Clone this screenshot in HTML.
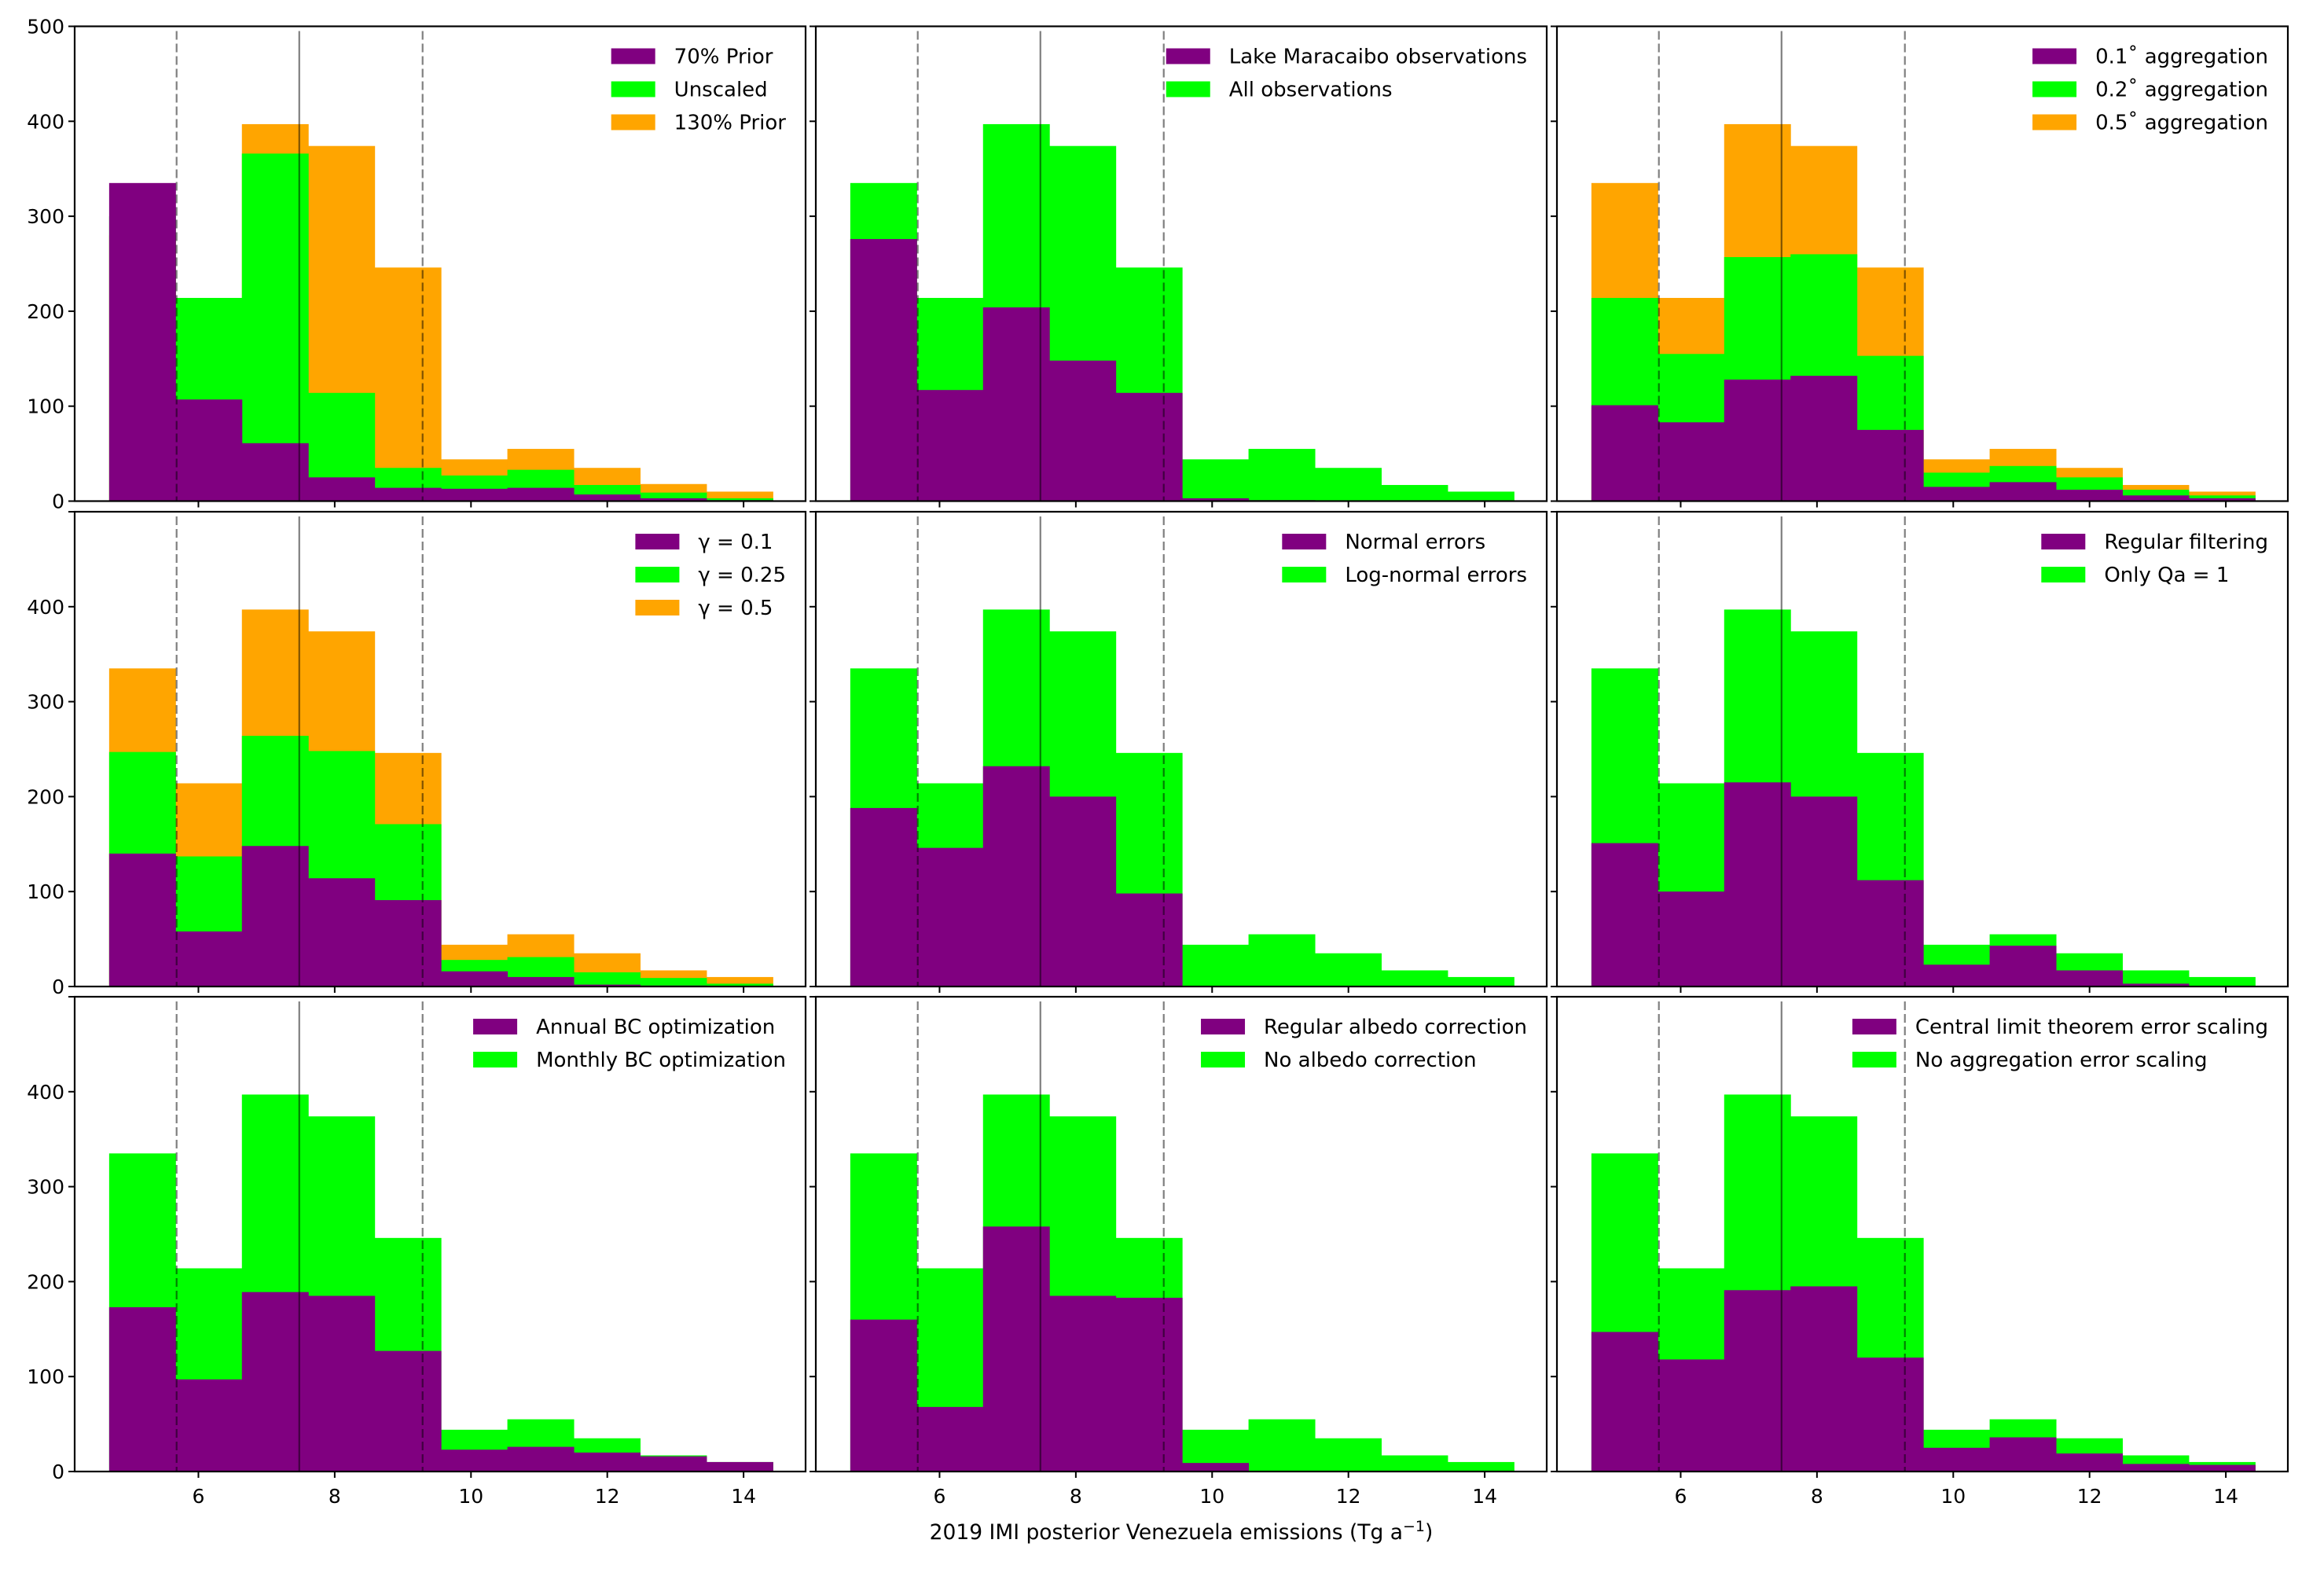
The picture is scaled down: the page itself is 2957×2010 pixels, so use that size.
<!DOCTYPE html>
<html><head><meta charset="utf-8"><style>
html,body{margin:0;padding:0;background:#fff;}
svg{display:block;font-family:"DejaVu Sans","Liberation Sans",sans-serif;}
</style></head>
<body>
<svg id="fig" width="2957" height="2010" viewBox="0 0 2957 2010" xmlns="http://www.w3.org/2000/svg">
<rect width="2957" height="2010" fill="#fff"/>
<text x="1503" y="1958" font-size="26.5" text-anchor="middle">2019 IMI posterior Venezuela emissions (Tg a<tspan dy="-10" font-size="19">−1</tspan><tspan dy="10">)</tspan></text>
</svg>
<script>
// shared bin layout
const binStart = 4.69;
const binWidth = 0.974;
const xTicks = [6, 8, 10, 12, 14];
const yTicks = [0, 100, 200, 300, 400, 500];
const refLines = [5.68, 7.48, 9.29];
// standard (all observations / unscaled baseline) distribution
const baseline = [335, 214, 397, 374, 246, 44, 55, 35, 17, 10];
// panel 1
const p1Labels = ["70% Prior", "Unscaled", "130% Prior"];
const p1Purple = [335, 107, 61, 25, 14, 13, 14, 7, 3, 1];
const p1Green = [300, 214, 366, 114, 35, 27, 33, 17, 9, 3];
const p1Orange = [280, 170, 397, 374, 246, 44, 55, 35, 18, 10];
// panel 2
const p2Labels = ["Lake Maracaibo observations", "All observations"];
const p2Purple = [276, 117, 204, 148, 114, 3, 1, 0, 0, 0];
// panel 3
const p3Labels = ["0.1\u02da aggregation", "0.2\u02da aggregation", "0.5\u02da aggregation"];
const p3Purple = [101, 83, 128, 132, 75, 15, 20, 12, 6, 3];
const p3Green = [214, 155, 257, 260, 153, 30, 37, 25, 12, 6];
// panel 4
const p4Labels = ["\u03b3 = 0.1", "\u03b3 = 0.25", "\u03b3 = 0.5"];
const p4Purple = [140, 58, 148, 114, 91, 16, 10, 2, 1, 0];
const p4Green = [247, 137, 264, 248, 171, 28, 31, 15, 9, 3];
// panel 5
const p5Labels = ["Normal errors", "Log-normal errors"];
const p5Purple = [188, 146, 232, 200, 98, 0, 0, 0, 0, 0];
// panel 6
const p6Labels = ["Regular filtering", "Only Qa = 1"];
const p6Purple = [151, 100, 215, 200, 112, 23, 43, 17, 3, 0];
// panel 7
const p7Labels = ["Annual BC optimization", "Monthly BC optimization"];
const p7Purple = [173, 97, 189, 185, 127, 23, 26, 20, 16, 10];
// panel 8
const p8Labels = ["Regular albedo correction", "No albedo correction"];
const p8Purple = [160, 68, 258, 185, 183, 9, 0, 0, 0, 0];
// panel 9
const p9Labels = ["Central limit theorem error scaling", "No aggregation error scaling"];
const p9Purple = [147, 118, 191, 195, 120, 25, 36, 19, 8, 7];

const PURPLE = "#800080", GREEN = "#00ff00", ORANGE = "#ffa500";
const panels = [
  {labels: p1Labels, series: [p1Purple, p1Green, p1Orange]},
  {labels: p2Labels, series: [p2Purple, baseline]},
  {labels: p3Labels, series: [p3Purple, p3Green, baseline]},
  {labels: p4Labels, series: [p4Purple, p4Green, baseline]},
  {labels: p5Labels, series: [p5Purple, baseline]},
  {labels: p6Labels, series: [p6Purple, baseline]},
  {labels: p7Labels, series: [p7Purple, baseline]},
  {labels: p8Labels, series: [p8Purple, baseline]},
  {labels: p9Labels, series: [p9Purple, baseline]}
];
const colors = [PURPLE, GREEN, ORANGE];
const colLeft = [95, 1038, 1981];
const rowTop = [33.5, 651, 1268];
const PW = 930, PH = 604;
const X0 = 4.184, X1 = 14.91, Y0 = 0, Y1 = 500;
const NS = "http://www.w3.org/2000/svg";
const svg = document.getElementById("fig");
function mk(tag, attrs, parent) {
  const e = document.createElementNS(NS, tag);
  for (const k in attrs) e.setAttribute(k, attrs[k]);
  (parent || svg).appendChild(e);
  return e;
}
panels.forEach((p, i) => {
  const r = Math.floor(i / 3), c = i % 3;
  const L = colLeft[c], T = rowTop[r];
  const sx = v => L + (v - X0) / (X1 - X0) * PW;
  const sy = v => T + PH - (v - Y0) / (Y1 - Y0) * PH;
  const g = mk("g", {});
  
  
  for (let s = p.series.length - 1; s >= 0; s--) {
    const vals = p.series[s];
    vals.forEach((v, b) => {
      if (v <= 0) return;
      const x0 = sx(binStart + b * binWidth), x1 = sx(binStart + (b + 1) * binWidth);
      const rect = mk("rect", {x: x0, y: sy(v), width: x1 - x0 + 0.5, height: sy(0) - sy(v), fill: colors[s]}, g);
      
      
    });
  }
  refLines.forEach((v, k) => {
    const ln = mk("line", {x1: sx(v), x2: sx(v), y1: T + 6, y2: T + PH, stroke: "#000", "stroke-opacity": 0.5, "stroke-width": 2.2}, g);
    if (k !== 1) ln.setAttribute("stroke-dasharray", "11,5");
    
    
  });
  const fr = mk("rect", {x: L, y: T, width: PW, height: PH, fill: "none", stroke: "#000", "stroke-width": 2.2}, g);
  
  
  yTicks.forEach(v => {
    const y = sy(v);
    mk("line", {x1: L - 8, x2: L, y1: y, y2: y, stroke: "#000", "stroke-width": 2}, g);
    if (c === 0 && (r === 0 || v < 500)) {
      const t = mk("text", {x: L - 13, y: y + 9, "font-size": 25, "text-anchor": "end"}, g);
      t.textContent = v;
      
      
    }
  });
  xTicks.forEach(v => {
    const x = sx(v);
    mk("line", {x1: x, x2: x, y1: T + PH, y2: T + PH + 8, stroke: "#000", "stroke-width": 2}, g);
    if (r === 2) {
      const t = mk("text", {x: x, y: T + PH + 40, "font-size": 25, "text-anchor": "middle"}, g);
      t.textContent = v;
      
      
    }
  });
  const lg = mk("g", {}, g);
  
  
  const texts = [];
  p.labels.forEach((lab, s) => {
    const t = mk("text", {x: 0, y: T + 38 + s * 42 + 9, "font-size": 26}, lg);
    t.textContent = lab;
    
    
    texts.push(t);
  });
  let maxW = 0;
  texts.forEach(t => { maxW = Math.max(maxW, t.getComputedTextLength()); });
  const tx = L + PW - 25 - maxW;
  texts.forEach((t, s) => {
    t.setAttribute("x", tx);
    const sw = mk("rect", {x: tx - 80, y: T + 38 + s * 42 - 10, width: 56, height: 20, fill: colors[s]}, lg);
    
    
  });
});
</script>
</body></html>
